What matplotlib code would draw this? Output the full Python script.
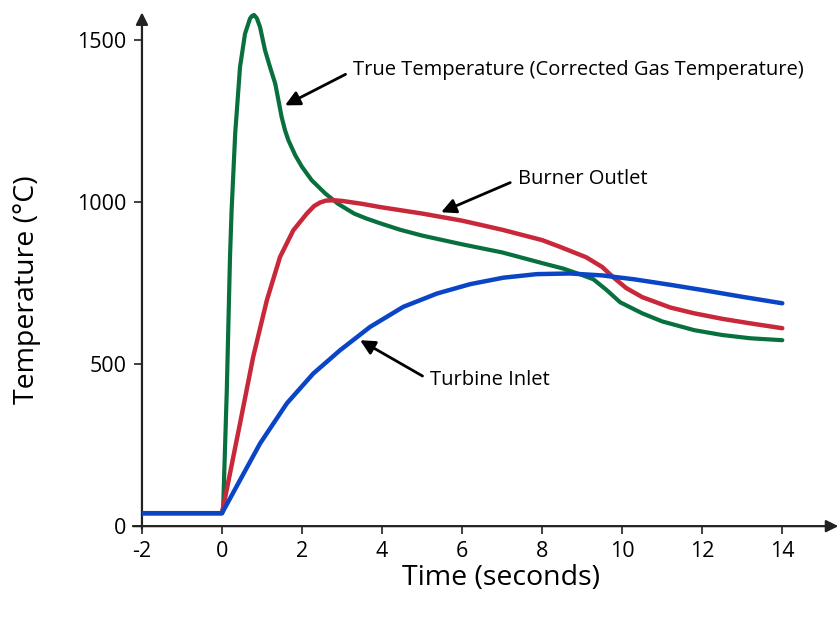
import matplotlib.pyplot as plt

plt.rcParams['font.family'] = ['Open Sans', 'DejaVu Sans']
plt.rcParams['axes.unicode_minus'] = False

# True temperature (corrected gas temperature)
true_t = [-2, 0, 0.03, 0.12, 0.2, 0.24, 0.33, 0.45, 0.575, 0.7, 0.75, 0.8, 0.87, 0.95,
          1.075, 1.2, 1.33, 1.41, 1.49, 1.575, 1.66, 1.83, 2.0, 2.24, 2.58, 2.9, 3.3,
          3.6, 3.95, 4.45, 5.0, 6.0, 7.0, 8.0, 8.53, 9.0, 9.28, 9.6, 9.95, 10.5, 11.0,
          11.8, 12.5, 13.2, 14.0]
true_v = [40, 40, 60, 420, 831, 975, 1213, 1417, 1520, 1567, 1575, 1578, 1568, 1541,
          1469, 1417, 1366, 1315, 1263, 1222, 1191, 1145, 1109, 1068, 1027, 995, 965,
          950, 935, 915, 897, 870, 845, 812, 795, 775, 762, 730, 691, 657, 632,
          605, 590, 580, 574]

# Burner outlet
burner_t = [-2, 0, 0.45, 0.78, 1.12, 1.45, 1.78, 2.12, 2.3, 2.45, 2.6, 2.8, 3.0, 3.5,
            3.95, 5.0, 6.0, 7.0, 8.0, 8.45, 9.1, 9.5, 9.78, 10.1, 10.5, 11.2, 11.8,
            12.5, 13.2, 14.0]
burner_v = [40, 40, 317, 523, 697, 831, 913, 965, 988, 999, 1005, 1006, 1004, 995,
            985, 965, 943, 915, 883, 862, 830, 800, 768, 735, 707, 675, 657,
            640, 626, 611]

# Turbine inlet
turbine_t = [-2, 0, 0.45, 0.95, 1.62, 2.28, 2.95, 3.7, 4.53, 5.37, 6.2, 7.03, 7.87,
             8.7, 9.5, 10.3, 11.2, 12.1, 13.0, 14.0]
turbine_v = [40, 40, 142, 255, 379, 471, 543, 615, 677, 718, 747, 767, 778,
             780, 774, 762, 745, 727, 708, 688]

x_ticks = [-2, 0, 2, 4, 6, 8, 10, 12, 14]
y_ticks = [0, 500, 1000, 1500]

fig = plt.figure(figsize=(8.4, 6.19), dpi=100)
ax = fig.add_axes([0.169, 0.150, 0.829, 0.830])

line_kw = dict(solid_joinstyle='round', solid_capstyle='round')
ax.plot(true_t, true_v, color='#08703f', lw=3, zorder=3, **line_kw)
ax.plot(burner_t, burner_v, color='#c9283a', lw=3.2, zorder=4, **line_kw)
ax.plot(turbine_t, turbine_v, color='#0a45c6', lw=3.2, zorder=5, **line_kw)

ax.set_xlim(-2, 15.4)
ax.set_ylim(0, 1586)
ax.set_xticks(x_ticks)
ax.set_yticks(y_ticks)
ax.tick_params(labelsize=15.5, length=6, width=1.3, color='#333333', pad=5)
for s in ax.spines.values():
    s.set_visible(False)

# axis lines with arrow heads
axis_arrow = dict(arrowstyle='-|>', color='#222222', lw=1.6, mutation_scale=18,
                  shrinkA=0, shrinkB=0)
ax.annotate('', xy=(1.0, 0), xytext=(-0.013, 0), xycoords='axes fraction',
            arrowprops=axis_arrow, annotation_clip=False)
ax.annotate('', xy=(0, 1.0), xytext=(0, -0.005), xycoords='axes fraction',
            arrowprops=axis_arrow, annotation_clip=False)

fig.text(501 / 840, 1 - 578 / 619, 'Time (seconds)', fontsize=20.5,
         ha='center', va='center')
fig.text(27 / 840, 1 - 290 / 619, 'Temperature (°C)', fontsize=20.5,
         ha='center', va='center', rotation=90)

# labels with pointer arrows
pointer = dict(arrowstyle='-|>', color='black', lw=2, mutation_scale=22,
               shrinkA=4, shrinkB=0, relpos=(0, 0.5))
ax.annotate('True Temperature (Corrected Gas Temperature)', xy=(1.575, 1299),
            xytext=(3.28, 1407), fontsize=14.5, va='center', ha='left',
            arrowprops=pointer)
ax.annotate('Burner Outlet', xy=(5.475, 969), xytext=(7.4, 1071),
            fontsize=14.5, va='center', ha='left', arrowprops=pointer)
ax.annotate('Turbine Inlet', xy=(3.45, 574), xytext=(5.2, 450),
            fontsize=14.5, va='center', ha='left', arrowprops=pointer)

plt.savefig('out.png', dpi=100)
